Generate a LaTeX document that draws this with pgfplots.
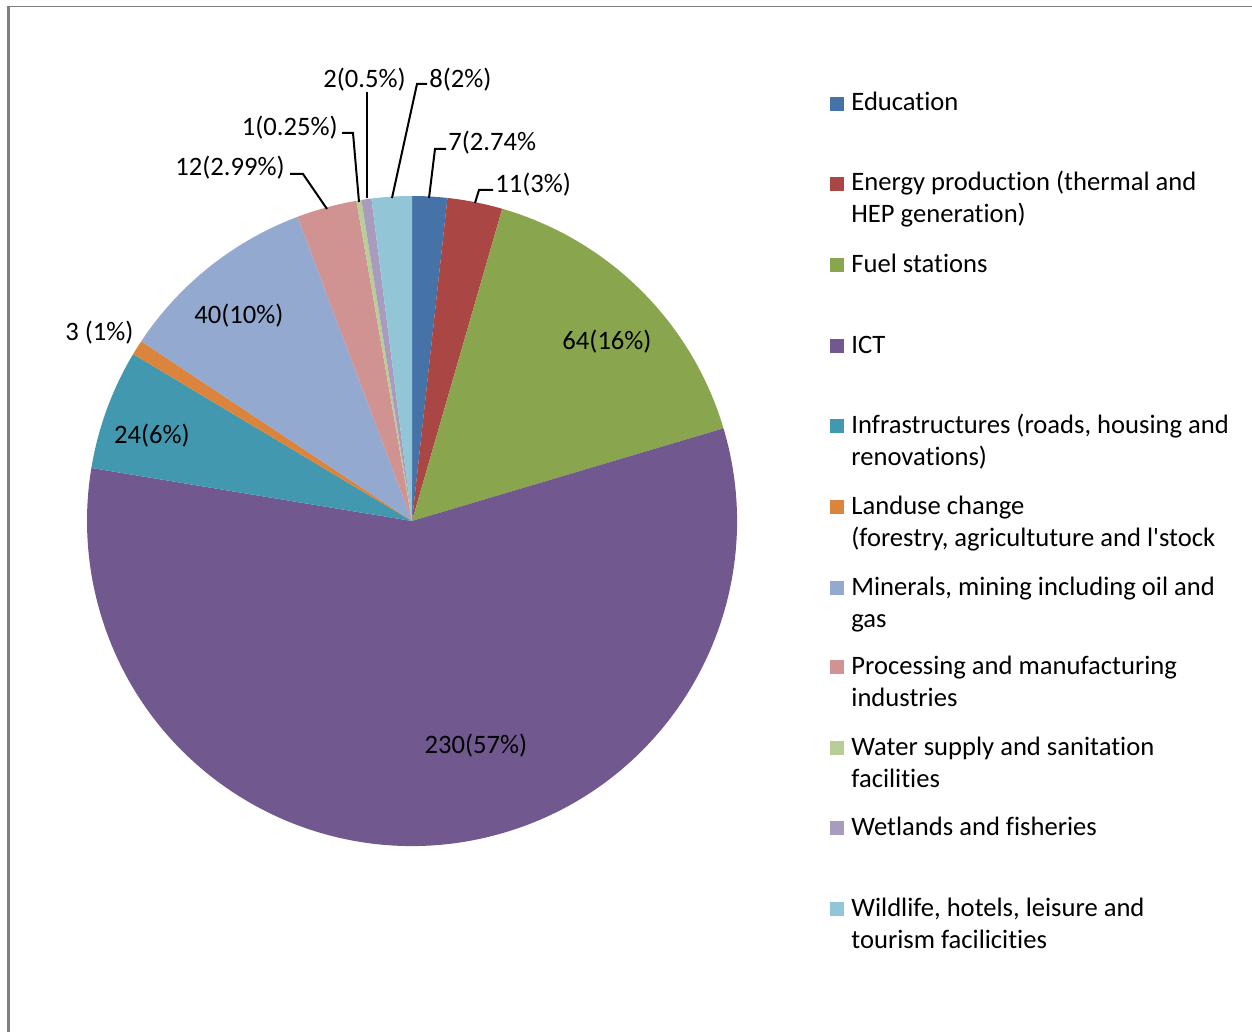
\documentclass[border=0pt]{standalone}
\usepackage{pgfplots}
\usepackage{pgfplotstable}
\pgfplotsset{compat=1.18}
\usepackage{fontspec}
\setmainfont{Carlito}[Ligatures={TeXOff,NoCommon}]
\definecolor{cEdu}{HTML}{4572A7}
\definecolor{cEne}{HTML}{AA4643}
\definecolor{cFuel}{HTML}{89A54E}
\definecolor{cICT}{HTML}{71588F}
\definecolor{cInf}{HTML}{4198AF}
\definecolor{cLand}{HTML}{DB843D}
\definecolor{cMin}{HTML}{93A9CF}
\definecolor{cProc}{HTML}{D19392}
\definecolor{cWat}{HTML}{B9CD96}
\definecolor{cWet}{HTML}{A99BBD}
\definecolor{cWild}{HTML}{92C5D6}
\definecolor{frame}{HTML}{808080}
\pgfplotstableread[col sep=comma]{
value,color
7,cEdu
11,cEne
64,cFuel
230,cICT
24,cInf
3,cLand
40,cMin
12,cProc
1,cWat
2,cWet
8,cWild
}\piedata
\tikzset{lab/.style={font=\fontsize{13.3}{16}\selectfont, inner sep=0pt, text=black}}
\begin{document}
\begin{tikzpicture}
\begin{axis}[x=0.5pt, y=0.5pt, xmin=0, xmax=1252, ymin=0, ymax=1032, y dir=reverse,
  hide axis, clip=false, scale only axis]
\fill[white] (axis cs:0,0) rectangle (axis cs:1252,1032);
\fill[frame] (axis cs:7,6) rectangle (axis cs:10,1032);
\fill[frame] (axis cs:7,6) rectangle (axis cs:1252,7.5);
% pie
\def\tot{0}
\pgfplotsforeachungrouped \i in {0,...,10}{%
  \pgfplotstablegetelem{\i}{value}\of\piedata
  \pgfmathsetmacro\tot{\tot+\pgfplotsretval}%
}
\def\cum{0}
\pgfplotsforeachungrouped \i in {0,...,10}{%
  \pgfplotstablegetelem{\i}{value}\of\piedata \let\val\pgfplotsretval
  \pgfplotstablegetelem{\i}{color}\of\piedata \let\col\pgfplotsretval
  \pgfmathsetmacro\aa{90-\cum/\tot*360}%
  \pgfmathsetmacro\cum{\cum+\val}%
  \pgfmathsetmacro\bb{90-\cum/\tot*360}%
  \edef\temp{\noexpand\fill[\col] (axis cs:412,521) -- ++(\aa:162.5pt) arc[start angle=\aa, end angle=\bb, radius=162.5pt] -- cycle;}%
  \temp
}
% leader lines
\draw[black, line width=1pt] (axis cs:367,92) -- (axis cs:367,198);
\draw[black, line width=1pt] (axis cs:427,84) -- (axis cs:417,84) -- (axis cs:392,198);
\draw[black, line width=1pt] (axis cs:342,133) -- (axis cs:353,133) -- (axis cs:359,202);
\draw[black, line width=1pt] (axis cs:446,149) -- (axis cs:435,149) -- (axis cs:429,198);
\draw[black, line width=1pt] (axis cs:290,174) -- (axis cs:303,174) -- (axis cs:327,209);
\draw[black, line width=1pt] (axis cs:493,190) -- (axis cs:479,190) -- (axis cs:475,203);
% data labels
\node[lab, anchor=base east] at (axis cs:406,88) {2(0.5\%)};
\node[lab, anchor=base west] at (axis cs:429,88) {8(2\%)};
\node[lab, anchor=base east] at (axis cs:338,136) {1(0.25\%)};
\node[lab, anchor=base west] at (axis cs:448,151) {7(2.74\%};
\node[lab, anchor=base east] at (axis cs:285,176) {12(2.99\%)};
\node[lab, anchor=base west] at (axis cs:495,193) {11(3\%)};
\node[lab, anchor=base west] at (axis cs:65,340) {3 (1\%)};
\node[lab, anchor=base] at (axis cs:239,323) {40(10\%)};
\node[lab, anchor=base] at (axis cs:607,349) {64(16\%)};
\node[lab, anchor=base] at (axis cs:152,443) {24(6\%)};
\node[lab, anchor=base] at (axis cs:476,753) {230(57\%)};
% legend
\fill[cEdu]  (axis cs:830,97.5) rectangle (axis cs:844,111.5);
\fill[cEne]  (axis cs:830,177.5) rectangle (axis cs:844,191.5);
\fill[cFuel] (axis cs:830,258) rectangle (axis cs:844,272);
\fill[cICT]  (axis cs:830,339) rectangle (axis cs:844,353);
\fill[cInf]  (axis cs:830,419) rectangle (axis cs:844,433);
\fill[cLand] (axis cs:830,500) rectangle (axis cs:844,514);
\fill[cMin]  (axis cs:830,581) rectangle (axis cs:844,595);
\fill[cProc] (axis cs:830,660) rectangle (axis cs:844,674);
\fill[cWat]  (axis cs:830,741) rectangle (axis cs:844,755);
\fill[cWet]  (axis cs:830,821) rectangle (axis cs:844,835);
\fill[cWild] (axis cs:830,902) rectangle (axis cs:844,916);
\node[lab, anchor=base west] at (axis cs:851,111) {Education};
\node[lab, anchor=base west] at (axis cs:851,191) {Energy production (thermal and};
\node[lab, anchor=base west] at (axis cs:851,223) {HEP generation)};
\node[lab, anchor=base west] at (axis cs:851,272) {Fuel stations};
\node[lab, anchor=base west] at (axis cs:851,353) {ICT};
\node[lab, anchor=base west] at (axis cs:851,433) {Infrastructures (roads, housing and};
\node[lab, anchor=base west] at (axis cs:851,465) {renovations)};
\node[lab, anchor=base west] at (axis cs:851,514) {Landuse change};
\node[lab, anchor=base west] at (axis cs:851,546) {(forestry, agricultuture and l'stock};
\node[lab, anchor=base west] at (axis cs:851,595) {Minerals, mining including oil and};
\node[lab, anchor=base west] at (axis cs:851,627) {gas};
\node[lab, anchor=base west] at (axis cs:851,674) {Processing and manufacturing};
\node[lab, anchor=base west] at (axis cs:851,706) {industries};
\node[lab, anchor=base west] at (axis cs:851,755) {Water supply and sanitation};
\node[lab, anchor=base west] at (axis cs:851,787) {facilities};
\node[lab, anchor=base west] at (axis cs:851,835) {Wetlands and fisheries};
\node[lab, anchor=base west] at (axis cs:851,916) {Wildlife, hotels, leisure and};
\node[lab, anchor=base west] at (axis cs:851,948) {tourism facilicities};
\end{axis}
\end{tikzpicture}
\end{document}
